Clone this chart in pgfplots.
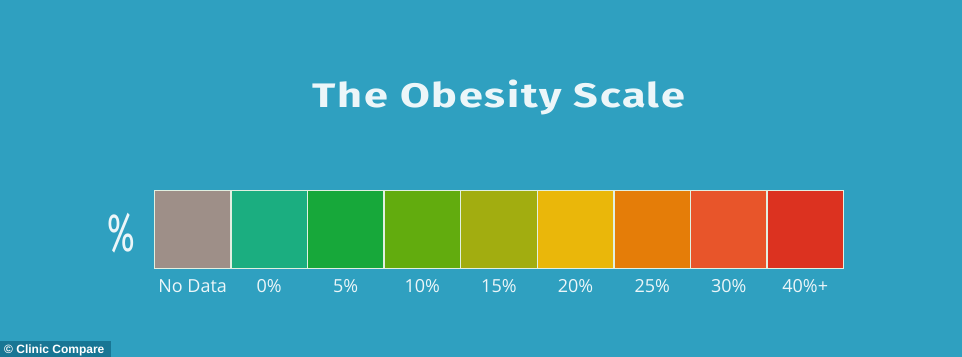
\documentclass[border=0pt]{standalone}
\usepackage{pgfplots}
\pgfplotsset{compat=1.18}
\usepackage{fontspec}
\setmainfont{Open Sans}
\newfontfamily\titlefont[LetterSpace=5,FakeStretch=1.27]{Fira Sans}
\newfontfamily\pctfont{Fira Sans}
\newfontfamily\arialfont{Liberation Sans}
\definecolor{bg}{RGB}{47,160,192}
\definecolor{cpbox}{RGB}{24,118,148}
\definecolor{txt}{RGB}{236,246,249}
\definecolor{cA}{RGB}{158,143,136}
\definecolor{cB}{RGB}{27,174,128}
\definecolor{cC}{RGB}{23,168,58}
\definecolor{cD}{RGB}{98,172,14}
\definecolor{cE}{RGB}{162,173,16}
\definecolor{cF}{RGB}{234,183,10}
\definecolor{cG}{RGB}{229,125,8}
\definecolor{cH}{RGB}{232,85,42}
\definecolor{cI}{RGB}{220,50,32}
\definecolor{edge}{RGB}{225,240,225}
\begin{document}
\begin{tikzpicture}
\begin{axis}[
  width=962bp, height=357bp, scale only axis,
  xmin=0, xmax=962, ymin=0, ymax=357, y dir=reverse,
  axis line style={draw=none}, ticks=none,
  axis background/.style={fill=bg},
  clip=false,
  box/.style={draw=edge, line width=1.3bp},
]
% boxes: left, right, top, bottom (pixels)
\addplot[box, fill=cA] coordinates {(154.3,190.7) (230.9,190.7) (230.9,268.3) (154.3,268.3)} -- cycle;
\addplot[box, fill=cB] coordinates {(230.9,190.7) (307.4,190.7) (307.4,268.3) (230.9,268.3)} -- cycle;
\addplot[box, fill=cC] coordinates {(307.4,190.7) (384.0,190.7) (384.0,268.3) (307.4,268.3)} -- cycle;
\addplot[box, fill=cD] coordinates {(384.0,190.7) (460.6,190.7) (460.6,268.3) (384.0,268.3)} -- cycle;
\addplot[box, fill=cE] coordinates {(460.6,190.7) (537.2,190.7) (537.2,268.3) (460.6,268.3)} -- cycle;
\addplot[box, fill=cF] coordinates {(537.2,190.7) (613.9,190.7) (613.9,268.3) (537.2,268.3)} -- cycle;
\addplot[box, fill=cG] coordinates {(613.9,190.7) (690.5,190.7) (690.5,268.3) (613.9,268.3)} -- cycle;
\addplot[box, fill=cH] coordinates {(690.5,190.7) (767.1,190.7) (767.1,268.3) (690.5,268.3)} -- cycle;
\addplot[box, fill=cI] coordinates {(767.1,190.7) (843.3,190.7) (843.3,268.3) (767.1,268.3)} -- cycle;
% title
\node[anchor=base, text=txt, font=\titlefont\bfseries\fontsize{34bp}{40bp}\selectfont, inner sep=0pt] at (axis cs:499,107) {The Obesity Scale};
% percent sign
\node[anchor=base, text=txt, font=\pctfont\fontsize{54bp}{60bp}\selectfont, inner sep=0pt] at (axis cs:121.5,251) {\scalebox{0.62}[1]{\%}};
% labels
\foreach \lab/\xc in {No Data/192.6, 0\%/269.2, 5\%/345.7, 10\%/422.3, 15\%/498.9, 20\%/575.5, 25\%/652.2, 30\%/728.8, 40\%+/805.2}{
  \edef\temp{\noexpand\node[anchor=base, text=txt, font=\noexpand\fontsize{18bp}{21bp}\noexpand\selectfont, inner sep=0pt] at (axis cs:\xc,292) {\lab};}
  \temp
}
% copyright box
\fill[cpbox] (axis cs:0,341) rectangle (axis cs:110.5,357);
\node[anchor=base west, text=white, font=\arialfont\bfseries\fontsize{12bp}{14bp}\selectfont, inner sep=0pt] at (axis cs:4,353.5) {\textcopyright\ Clinic Compare};
\end{axis}
\end{tikzpicture}
\end{document}
